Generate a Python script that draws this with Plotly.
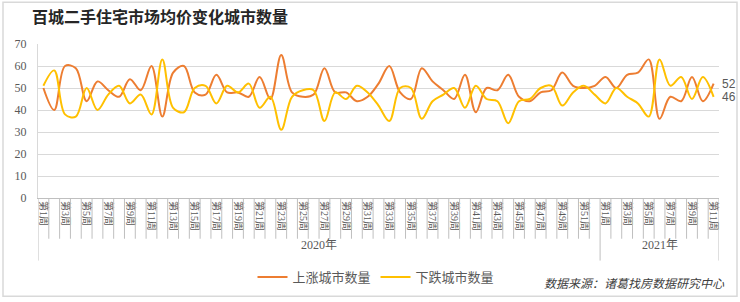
import plotly.graph_objects as go

# ---------------- data ----------------
weeks_2020 = list(range(1, 53))
weeks_2021 = list(range(1, 12))
year_labels = ["2020年", "2021年"]
series_names = ["上涨城市数量", "下跌城市数量"]

up_counts = [50, 40, 60, 59, 44, 53, 49, 46, 54, 49,
             60, 37, 57, 60, 48, 47, 56, 48, 48, 46,
             55, 45, 65, 48, 46, 47, 59, 48, 48, 44,
             46, 52, 60, 48, 45, 59, 53, 49, 45, 56,
             39, 50, 49, 56, 46, 44, 48, 49, 57, 51,
             50, 51,
             55, 50, 56, 57, 63, 36, 46, 44, 55, 44, 52]

down_counts = [51, 58, 38, 37, 50, 40, 47, 51, 43, 47,
               38, 63, 41, 39, 50, 51, 43, 51, 48, 52,
               41, 46, 31, 46, 49, 49, 35, 48, 45, 51,
               48, 42, 35, 50, 50, 36, 44, 47, 50, 41,
               51, 45, 44, 34, 44, 45, 50, 51, 42, 48,
               51, 47,
               43, 50, 46, 43, 37, 63, 51, 55, 45, 55, 46]

title_text = "百城二手住宅市场均价变化城市数量"
source_text = "数据来源：诸葛找房数据研究中心"

# ---------------- derived ----------------
week_nums = weeks_2020 + weeks_2021
week_labels = [f"第{w}周" for w in week_nums]
n = len(week_labels)
xs = list(range(n))
tick_idx = [i for i, w in enumerate(week_nums) if w % 2 == 1]

ORANGE = "#ED7D31"
YELLOW = "#FFC000"
GRID = "#D9D9D9"
AXIS = "#BFBFBF"
TXT = "#595959"
SERIF = "Liberation Serif, Noto Sans CJK SC, serif"
CJK = "Noto Sans CJK SC, sans-serif"

W, H = 740, 302
L, R, T, B = 38, 21, 44, 103
pw, ph = W - L - R, H - T - B

def px_x(px):
    return (px - L) / pw

def px_y(py):
    return (H - B - py) / ph

fig = go.Figure()
for vals, name, col in [(up_counts, series_names[0], ORANGE),
                        (down_counts, series_names[1], YELLOW)]:
    fig.add_trace(go.Scatter(
        x=xs, y=vals, name=name, mode="lines",
        line=dict(color=col, width=2, shape="spline", smoothing=1.0),
    ))

shapes = []
n2020 = len(weeks_2020)
long_bounds = {0, n2020, n}
for b in range(n + 1):
    shapes.append(dict(type="line", xref="x", yref="paper",
                       x0=b - 0.5, x1=b - 0.5, y0=0,
                       y1=px_y(262) if b in long_bounds else px_y(240),
                       line=dict(color=AXIS, width=1)))
# outer frame
shapes.append(dict(type="rect", xref="paper", yref="paper",
                   x0=px_x(3), x1=px_x(737), y0=px_y(298), y1=px_y(2),
                   line=dict(color=GRID, width=1.5)))

annotations = [
    dict(x=(n2020 - 1) / 2, y=px_y(255), xref="x", yref="paper",
         text=year_labels[0], showarrow=False,
         font=dict(family=SERIF, size=12, color=TXT)),
    dict(x=(n2020 + n - 1) / 2, y=px_y(255), xref="x", yref="paper",
         text=year_labels[1], showarrow=False,
         font=dict(family=SERIF, size=12, color=TXT)),
    dict(x=px_x(727), y=px_y(284), xref="paper", yref="paper",
         xanchor="right", yanchor="middle",
         text=f"<i>{source_text}</i>", showarrow=False,
         font=dict(family=CJK, size=12, color="#404040")),
]
# end-of-series value labels
for vals in (up_counts, down_counts):
    annotations.append(dict(x=n - 1, y=vals[-1], xref="x", yref="y",
                            xanchor="left", yanchor="middle", xshift=6,
                            text=str(vals[-1]), showarrow=False,
                            font=dict(family="Liberation Sans, Arial",
                                      size=12, color=TXT)))

fig.update_layout(
    width=W, height=H,
    margin=dict(l=L, r=R, t=T, b=B),
    paper_bgcolor="white", plot_bgcolor="white",
    title=dict(text=title_text, x=32 / W, xref="container", xanchor="left",
               y=1 - 17 / H, yref="container", yanchor="middle",
               font=dict(family=CJK, size=16, color="#262626", weight="bold")),
    xaxis=dict(range=[-0.5, n - 0.5], tickmode="array",
               tickvals=tick_idx, ticktext=[week_labels[i] for i in tick_idx],
               tickangle=90, ticks="", showgrid=False, zeroline=False,
               showline=True, linecolor=AXIS, linewidth=1,
               tickfont=dict(family=SERIF, size=10, color=TXT)),
    yaxis=dict(range=[0, 70], dtick=10, showgrid=True, gridcolor=GRID,
               gridwidth=1, zeroline=False, showline=True, linecolor=GRID,
               ticks="", ticklabelstandoff=8,
               tickfont=dict(family=SERIF, size=12, color=TXT)),
    legend=dict(orientation="h", x=px_x(376), xanchor="center",
                y=px_y(277), yanchor="middle",
                font=dict(family=CJK, size=13, color=TXT),
                itemwidth=30, bgcolor="rgba(0,0,0,0)"),
    shapes=shapes,
    annotations=annotations,
)

fig.write_html("out.html")
